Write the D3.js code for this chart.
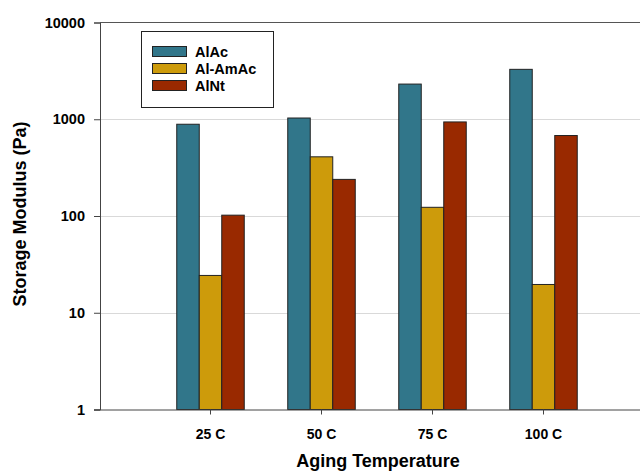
<!DOCTYPE html>
<html>
<head>
<meta charset="utf-8">
<script src="https://cdn.jsdelivr.net/npm/d3@7"></script>
<style>
  body { margin: 0; background: #fff; }
  text { font-family: "Liberation Sans", Arial, sans-serif; font-weight: bold; fill: #000; }
</style>
</head>
<body>
<div class="chart"></div>
<script>
let width = 640
let height = 475

// data
let categories = ['25 C', '50 C', '75 C', '100 C']
let seriesNames = ['AlAc', 'Al-AmAc', 'AlNt']
let alAc = [888, 1030, 2310, 3280]
let alAmAc = [24.3, 409, 123, 19.6]
let alNt = [102, 239, 938, 679]
let seriesColors = ['#31768a', '#cd9b0b', '#992900']
let yTicks = [1, 10, 100, 1000, 10000]

let series = [alAc, alAmAc, alNt]

let plotLeft = 100
let plotTop = 22.5
let plotBottom = 409.5

let x = d3.scaleBand()
    .domain(categories)
    .range([155, 599])
    .paddingInner(0)

let x1 = d3.scaleBand()
    .domain(seriesNames)
    .range([-33.75, 33.75])

let y = d3.scaleLog()
    .domain([1, 10000])
    .range([plotBottom, plotTop])

let svg = d3.select('div.chart')
    .append('svg')
    .attr('width', width)
    .attr('height', height)

// gridlines
svg.append('g')
    .selectAll('line')
    .data(yTicks.slice(1, 4))
    .enter()
    .append('line')
    .attr('x1', plotLeft)
    .attr('x2', width)
    .attr('y1', d => Math.round(y(d)) + 0.5)
    .attr('y2', d => Math.round(y(d)) + 0.5)
    .style('stroke', '#d9d9d9')
    .style('stroke-width', 1)

// top frame line
svg.append('line')
    .attr('x1', plotLeft)
    .attr('x2', width)
    .attr('y1', plotTop)
    .attr('y2', plotTop)
    .style('stroke', '#555')
    .style('stroke-width', 1)

// bars
let groups = svg.append('g')
    .selectAll('g')
    .data(categories)
    .enter()
    .append('g')
    .attr('transform', d => 'translate(' + (x(d) + x.bandwidth() / 2) + ',0)')

groups.selectAll('rect')
    .data((d, i) => seriesNames.map((s, j) => ({ s: s, v: series[j][i], c: seriesColors[j] })))
    .enter()
    .append('rect')
    .attr('x', d => x1(d.s))
    .attr('width', x1.bandwidth())
    .attr('y', d => y(d.v))
    .attr('height', d => plotBottom - y(d.v))
    .style('fill', d => d.c)
    .style('stroke', '#222')
    .style('stroke-width', 1)

// y axis
let yAxis = d3.axisLeft(y)
    .tickValues(yTicks)
    .tickFormat(d3.format('d'))
    .tickSize(6)
    .tickPadding(9)
let yg = svg.append('g')
    .attr('transform', 'translate(' + plotLeft + ',0)')
    .call(yAxis)
yg.select('.domain').attr('stroke', '#444')
yg.selectAll('.tick line').attr('stroke', '#444')
yg.selectAll('.tick text')
    .style('font-size', '14.5px')
    .style('font-family', '"Liberation Sans", Arial, sans-serif')
    .style('font-weight', 'bold')
    .attr('fill', '#000')

// x axis
let xAxis = d3.axisBottom(x)
    .tickSize(5)
    .tickPadding(15)
    .tickSizeOuter(0)
let xg = svg.append('g')
    .attr('transform', 'translate(0,' + plotBottom + ')')
    .call(xAxis)
xg.select('.domain').attr('d', 'M' + (plotLeft - 6) + ',0.5H' + width).attr('stroke', '#444')
xg.selectAll('.tick line').attr('stroke', '#444')
xg.selectAll('.tick text')
    .style('font-size', '14px')
    .style('font-family', '"Liberation Sans", Arial, sans-serif')
    .style('font-weight', 'bold')
    .attr('fill', '#000')

// axis titles
svg.append('text')
    .attr('x', 378)
    .attr('y', 467)
    .attr('text-anchor', 'middle')
    .style('font-size', '18px')
    .text('Aging Temperature')

svg.append('text')
    .attr('transform', 'translate(26,214) rotate(-90)')
    .attr('text-anchor', 'middle')
    .style('font-size', '18px')
    .text('Storage Modulus (Pa)')

// legend
let legend = svg.append('g')
legend.append('rect')
    .attr('x', 141.5)
    .attr('y', 31.5)
    .attr('width', 132)
    .attr('height', 76)
    .style('fill', '#fff')
    .style('stroke', '#222')
    .style('stroke-width', 1)

let items = legend.selectAll('g.item')
    .data(seriesNames)
    .enter()
    .append('g')
    .attr('class', 'item')
    .attr('transform', (d, i) => 'translate(152,' + (46.5 + i * 17) + ')')
items.append('rect')
    .attr('x', 0.5)
    .attr('width', 34)
    .attr('height', 10)
    .style('fill', (d, i) => seriesColors[i])
    .style('stroke', '#222')
items.append('text')
    .attr('x', 43)
    .attr('y', 10.5)
    .style('font-size', '14.5px')
    .text(d => d)
</script>
</body>
</html>
